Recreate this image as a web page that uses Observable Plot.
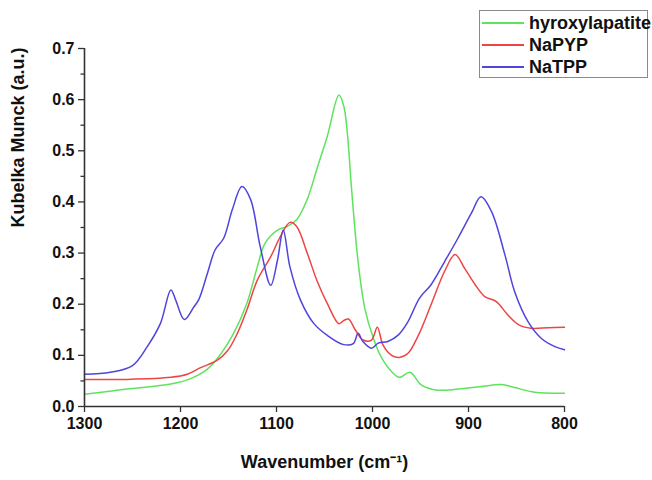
<!DOCTYPE html>
<html>
<head>
<meta charset="utf-8">
<script src="https://cdn.jsdelivr.net/npm/d3@7"></script>
<script src="https://cdn.jsdelivr.net/npm/@observablehq/plot@0.6"></script>
<style>
  html, body { margin: 0; padding: 0; background: #fff; }
  #wrap { position: relative; width: 652px; height: 480px; font-family: "Liberation Sans", Arial, sans-serif; }
  #legend { position: absolute; left: 479px; top: 10px; width: 169px; height: 68px; border: 1px solid #8a8a8a; background: #fff; box-sizing: border-box; }
  #legend .row { position: absolute; left: 0; height: 22px; display: flex; align-items: center; }
  #legend .swatch { width: 42px; height: 0; border-top: 2px solid; margin-left: 2px; margin-right: 5px; }
  #legend .name { font-weight: bold; font-size: 18px; color: #111; white-space: nowrap; }
</style>
</head>
<body>
<div id="wrap"></div>
<script>
// Series names and colours
const seriesNames = ["hyroxylapatite", "NaPYP", "NaTPP"];
const seriesColors = ["#5fe35f", "#ee4444", "#4f44dc"];

// Kubelka-Munck spectra: wavenumber (cm-1) and intensity (a.u.)
const hapWavenumber = [1300, 1256, 1210, 1190, 1172, 1158, 1145, 1131, 1120, 1112, 1099, 1089, 1079, 1068, 1058, 1047, 1035, 1030, 1026, 1022, 1015, 1008, 999, 991, 980, 972, 961, 949, 932, 911, 887, 866, 852, 831, 800];
const hapIntensity  = [0.024, 0.034, 0.044, 0.054, 0.073, 0.103, 0.142, 0.201, 0.273, 0.319, 0.345, 0.352, 0.365, 0.405, 0.464, 0.529, 0.609, 0.588, 0.530, 0.430, 0.283, 0.192, 0.133, 0.097, 0.068, 0.057, 0.067, 0.042, 0.032, 0.034, 0.039, 0.043, 0.037, 0.028, 0.026];

const pypWavenumber = [1300, 1256, 1210, 1193, 1179, 1162, 1151, 1141, 1131, 1120, 1106, 1096, 1086, 1079, 1068, 1058, 1047, 1035, 1030, 1025, 1018, 1010, 1001, 995, 989, 980, 972, 963, 952, 939, 925, 914, 904, 893, 883, 871, 859, 848, 835, 817, 800];
const pypIntensity  = [0.053, 0.053, 0.057, 0.063, 0.076, 0.090, 0.109, 0.142, 0.188, 0.247, 0.293, 0.332, 0.360, 0.352, 0.300, 0.247, 0.201, 0.162, 0.168, 0.171, 0.150, 0.130, 0.130, 0.155, 0.120, 0.100, 0.096, 0.104, 0.140, 0.199, 0.264, 0.297, 0.270, 0.238, 0.215, 0.205, 0.179, 0.160, 0.153, 0.154, 0.155];

const tppWavenumber = [1300, 1273, 1250, 1235, 1221, 1210, 1205, 1196, 1186, 1181, 1172, 1164, 1155, 1146, 1136, 1127, 1117, 1106, 1099, 1093, 1086, 1075, 1061, 1047, 1030, 1020, 1015, 1010, 1001, 994, 984, 973, 963, 951, 939, 925, 911, 897, 887, 876, 862, 852, 838, 824, 810, 800];
const tppIntensity  = [0.063, 0.067, 0.080, 0.116, 0.162, 0.228, 0.208, 0.170, 0.195, 0.209, 0.260, 0.306, 0.329, 0.385, 0.430, 0.405, 0.313, 0.237, 0.286, 0.345, 0.273, 0.208, 0.162, 0.139, 0.121, 0.123, 0.143, 0.127, 0.114, 0.124, 0.127, 0.140, 0.166, 0.212, 0.238, 0.283, 0.329, 0.378, 0.410, 0.381, 0.296, 0.225, 0.166, 0.133, 0.117, 0.111];

// Axis ticks
const xTicks = [1300, 1200, 1100, 1000, 900, 800];
const yTicks = [0, 0.1, 0.2, 0.3, 0.4, 0.5, 0.6, 0.7];
const yMinorTicks = [0.05, 0.15, 0.25, 0.35, 0.45, 0.55, 0.65];

const wavenumbers = [hapWavenumber, pypWavenumber, tppWavenumber];
const intensities = [hapIntensity, pypIntensity, tppIntensity];
const rows = seriesNames.flatMap((name, s) =>
  wavenumbers[s].map((w, i) => ({series: name, wavenumber: w, intensity: intensities[s][i]}))
);

const font = "'Liberation Sans', Arial, sans-serif";

const chart = Plot.plot({
  width: 652,
  height: 480,
  marginLeft: 84,
  marginRight: 88,
  marginTop: 48,
  marginBottom: 74,
  style: {fontFamily: font, fontSize: "16px", fontWeight: "bold", color: "#111", background: "#fff"},
  x: {domain: [1300, 800], label: null},
  y: {domain: [0, 0.7], label: null},
  color: {domain: seriesNames, range: seriesColors},
  marks: [
    Plot.axisY(yMinorTicks, {tickSize: 3.5, tickFormat: () => "", stroke: "#333", strokeWidth: 1.3}),
    Plot.axisY(yTicks, {tickSize: 6, tickPadding: 4, tickFormat: d3.format(".1f"), stroke: "#333", strokeWidth: 1.3, label: null}),
    Plot.axisX(xTicks, {tickSize: 6, tickPadding: 5, tickFormat: d3.format("d"), stroke: "#333", strokeWidth: 1.3, label: null}),
    Plot.lineY(rows, {x: "wavenumber", y: "intensity", z: "series", stroke: "series", strokeWidth: 1.5, curve: "catmull-rom"}),
    Plot.ruleX([1300], {stroke: "#333", strokeWidth: 1.6}),
    Plot.ruleY([0], {stroke: "#333", strokeWidth: 1.6}),
    Plot.text(["Kubelka Munck (a.u.)"], {frameAnchor: "left", dx: -66, rotate: -90, fontSize: 18, fontWeight: "bold", fill: "#111"}),
    Plot.text(["Wavenumber (cm\u207B\u00B9)"], {frameAnchor: "bottom", dy: 61, fontSize: 18, fontWeight: "bold", fill: "#111"})
  ]
});

const wrap = document.getElementById("wrap");
wrap.appendChild(chart);

// Line-style legend drawn over the top right corner
const legend = document.createElement("div");
legend.id = "legend";
seriesNames.forEach((name, i) => {
  const row = document.createElement("div");
  row.className = "row";
  row.style.top = (1 + i * 22) + "px";
  const sw = document.createElement("div");
  sw.className = "swatch";
  sw.style.borderTopColor = seriesColors[i];
  const label = document.createElement("span");
  label.className = "name";
  label.textContent = name;
  row.appendChild(sw);
  row.appendChild(label);
  legend.appendChild(row);
});
wrap.appendChild(legend);
</script>
</body>
</html>
